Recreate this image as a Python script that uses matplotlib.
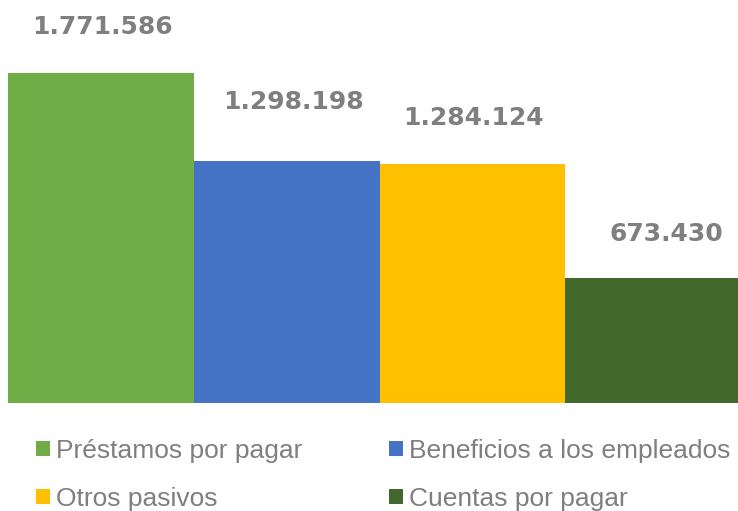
import matplotlib.pyplot as plt
from matplotlib.patches import Patch

categorias = ['Préstamos por pagar', 'Beneficios a los empleados', 'Otros pasivos', 'Cuentas por pagar']
valores = [1771586, 1298198, 1284124, 673430]
etiquetas = ['1.771.586', '1.298.198', '1.284.124', '673.430']
colores = ['#70AD47', '#4472C4', '#FFC000', '#43682B']
# label offsets in pixels (dx, dy) above the bar top, like the original
offsets = [(2, 46), (7, 59), (1, 46), (8, 44)]

gris = '#7F7F7F'

fig = plt.figure(figsize=(7.38, 5.11), dpi=100)
ax = fig.add_axes([8 / 738, 108 / 511, 743 / 738, 403 / 511])

x = range(len(valores))
ax.bar(x, valores, width=1.0, color=colores)
ax.set_xlim(-0.5, 3.5)
ax.set_ylim(0, 1771586 * 403 / 330)
ax.axis('off')

for i, v in enumerate(valores):
    ax.annotate(etiquetas[i], xy=(i, v), xytext=(offsets[i][0] * 0.72, offsets[i][1] * 0.72),
                textcoords='offset points', ha='center', va='center',
                fontsize=18, fontweight='bold', color=gris, family='DejaVu Sans')

handles = [Patch(facecolor=c, edgecolor='none') for c in colores]
# order so rows read: green, blue / yellow, dark green
orden = [0, 2, 1, 3]
leg = fig.legend([handles[i] for i in orden], [categorias[i] for i in orden],
                 ncol=2, loc='upper left', bbox_to_anchor=(36 / 738, 1 - 439 / 511),
                 frameon=False, borderpad=0, borderaxespad=0,
                 handlelength=0.53, handleheight=0.5, handletextpad=0.22,
                 columnspacing=3.3, labelspacing=0.9,
                 prop={'family': 'Liberation Sans', 'size': 19})
for t in leg.get_texts():
    t.set_color(gris)

fig.savefig('out.png', dpi=100)
